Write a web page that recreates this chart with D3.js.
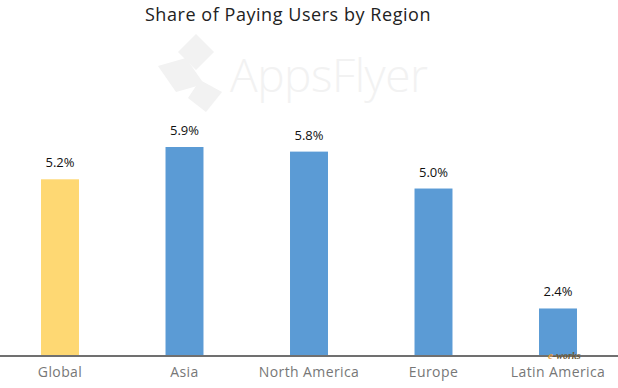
<!DOCTYPE html>
<html>
<head>
<meta charset="utf-8">
<script src="https://cdn.jsdelivr.net/npm/d3@7"></script>
<style>
  html, body { margin: 0; padding: 0; background: #fff; }
  svg { display: block; font-family: "Open Sans", "Lato", sans-serif; }
</style>
</head>
<body>
<svg id="chart" width="618" height="388"></svg>
<script>
const regions = ["Global", "Asia", "North America", "Europe", "Latin America"];
const shares = [5.2, 5.9, 5.8, 5.0, 2.4];
const highlight = ["Global"];

const width = 618, height = 388;
const baseline = 356;

const svg = d3.select("#chart");

// faint watermark behind the bars
const wm = svg.append("g").attr("class", "watermark").attr("fill", "#f2f2f2");
wm.append("path").attr("d", "M196,34 L214,52 L196,70 L178,52 Z");
wm.append("path").attr("d", "M158,66 L186,58 L204,84 L176,92 Z");
wm.append("path").attr("d", "M200,80 L222,92 L206,112 L188,98 Z");
wm.append("text").attr("x", 230).attr("y", 92).attr("font-size", 46).attr("font-family", "Open Sans")
  .attr("font-weight", 300).attr("textLength", 198).text("AppsFlyer");

svg.append("text")
  .attr("x", 288).attr("y", 21)
  .attr("text-anchor", "middle")
  .attr("font-size", 18)
  .attr("letter-spacing", 0.55)
  .attr("fill", "#222")
  .text("Share of Paying Users by Region");

const x = d3.scaleBand()
  .domain(regions)
  .range([-2.25, 620.25])
  .paddingInner(0.695)
  .paddingOuter(0.3475);

// truncated value axis, as in the original graphic
const y = d3.scaleLinear()
  .domain([1.37, 5.9])
  .range([baseline, 147]);

const data = regions.map((r, i) => ({ region: r, value: shares[i] }));

svg.append("g").selectAll("rect").data(data).join("rect")
  .attr("x", d => x(d.region))
  .attr("y", d => y(d.value))
  .attr("width", x.bandwidth())
  .attr("height", d => baseline - y(d.value))
  .attr("fill", d => highlight.includes(d.region) ? "#fed873" : "#5b9bd5");

svg.append("g").selectAll("text").data(data).join("text")
  .attr("x", d => x(d.region) + x.bandwidth() / 2)
  .attr("y", d => y(d.value) - 12)
  .attr("text-anchor", "middle")
  .attr("font-size", 13)
  .attr("fill", "#111")
  .text(d => d.value.toFixed(1) + "%");

const xAxis = svg.append("g")
  .attr("transform", `translate(0,${baseline})`)
  .call(d3.axisBottom(x).tickSize(0).tickPadding(11));
xAxis.select(".domain").attr("d", `M0,0H${width}`).attr("stroke", "#707070").attr("stroke-width", 2);
xAxis.selectAll("text").attr("font-size", 14).attr("fill", "#777")
  .attr("letter-spacing", 0.4)
  .attr("font-family", "'Open Sans', Lato, sans-serif");

// e-works stamp bottom right
const ew = svg.append("text").attr("x", 548).attr("y", 359)
  .attr("font-style", "italic").attr("font-weight", "bold")
  .attr("font-family", "Liberation Serif").attr("font-size", 10);
ew.append("tspan").attr("fill", "#e8a040").attr("font-size", 11).text("e");
ew.append("tspan").attr("fill", "#6a5a3a").text("-works");
</script>
</body>
</html>
